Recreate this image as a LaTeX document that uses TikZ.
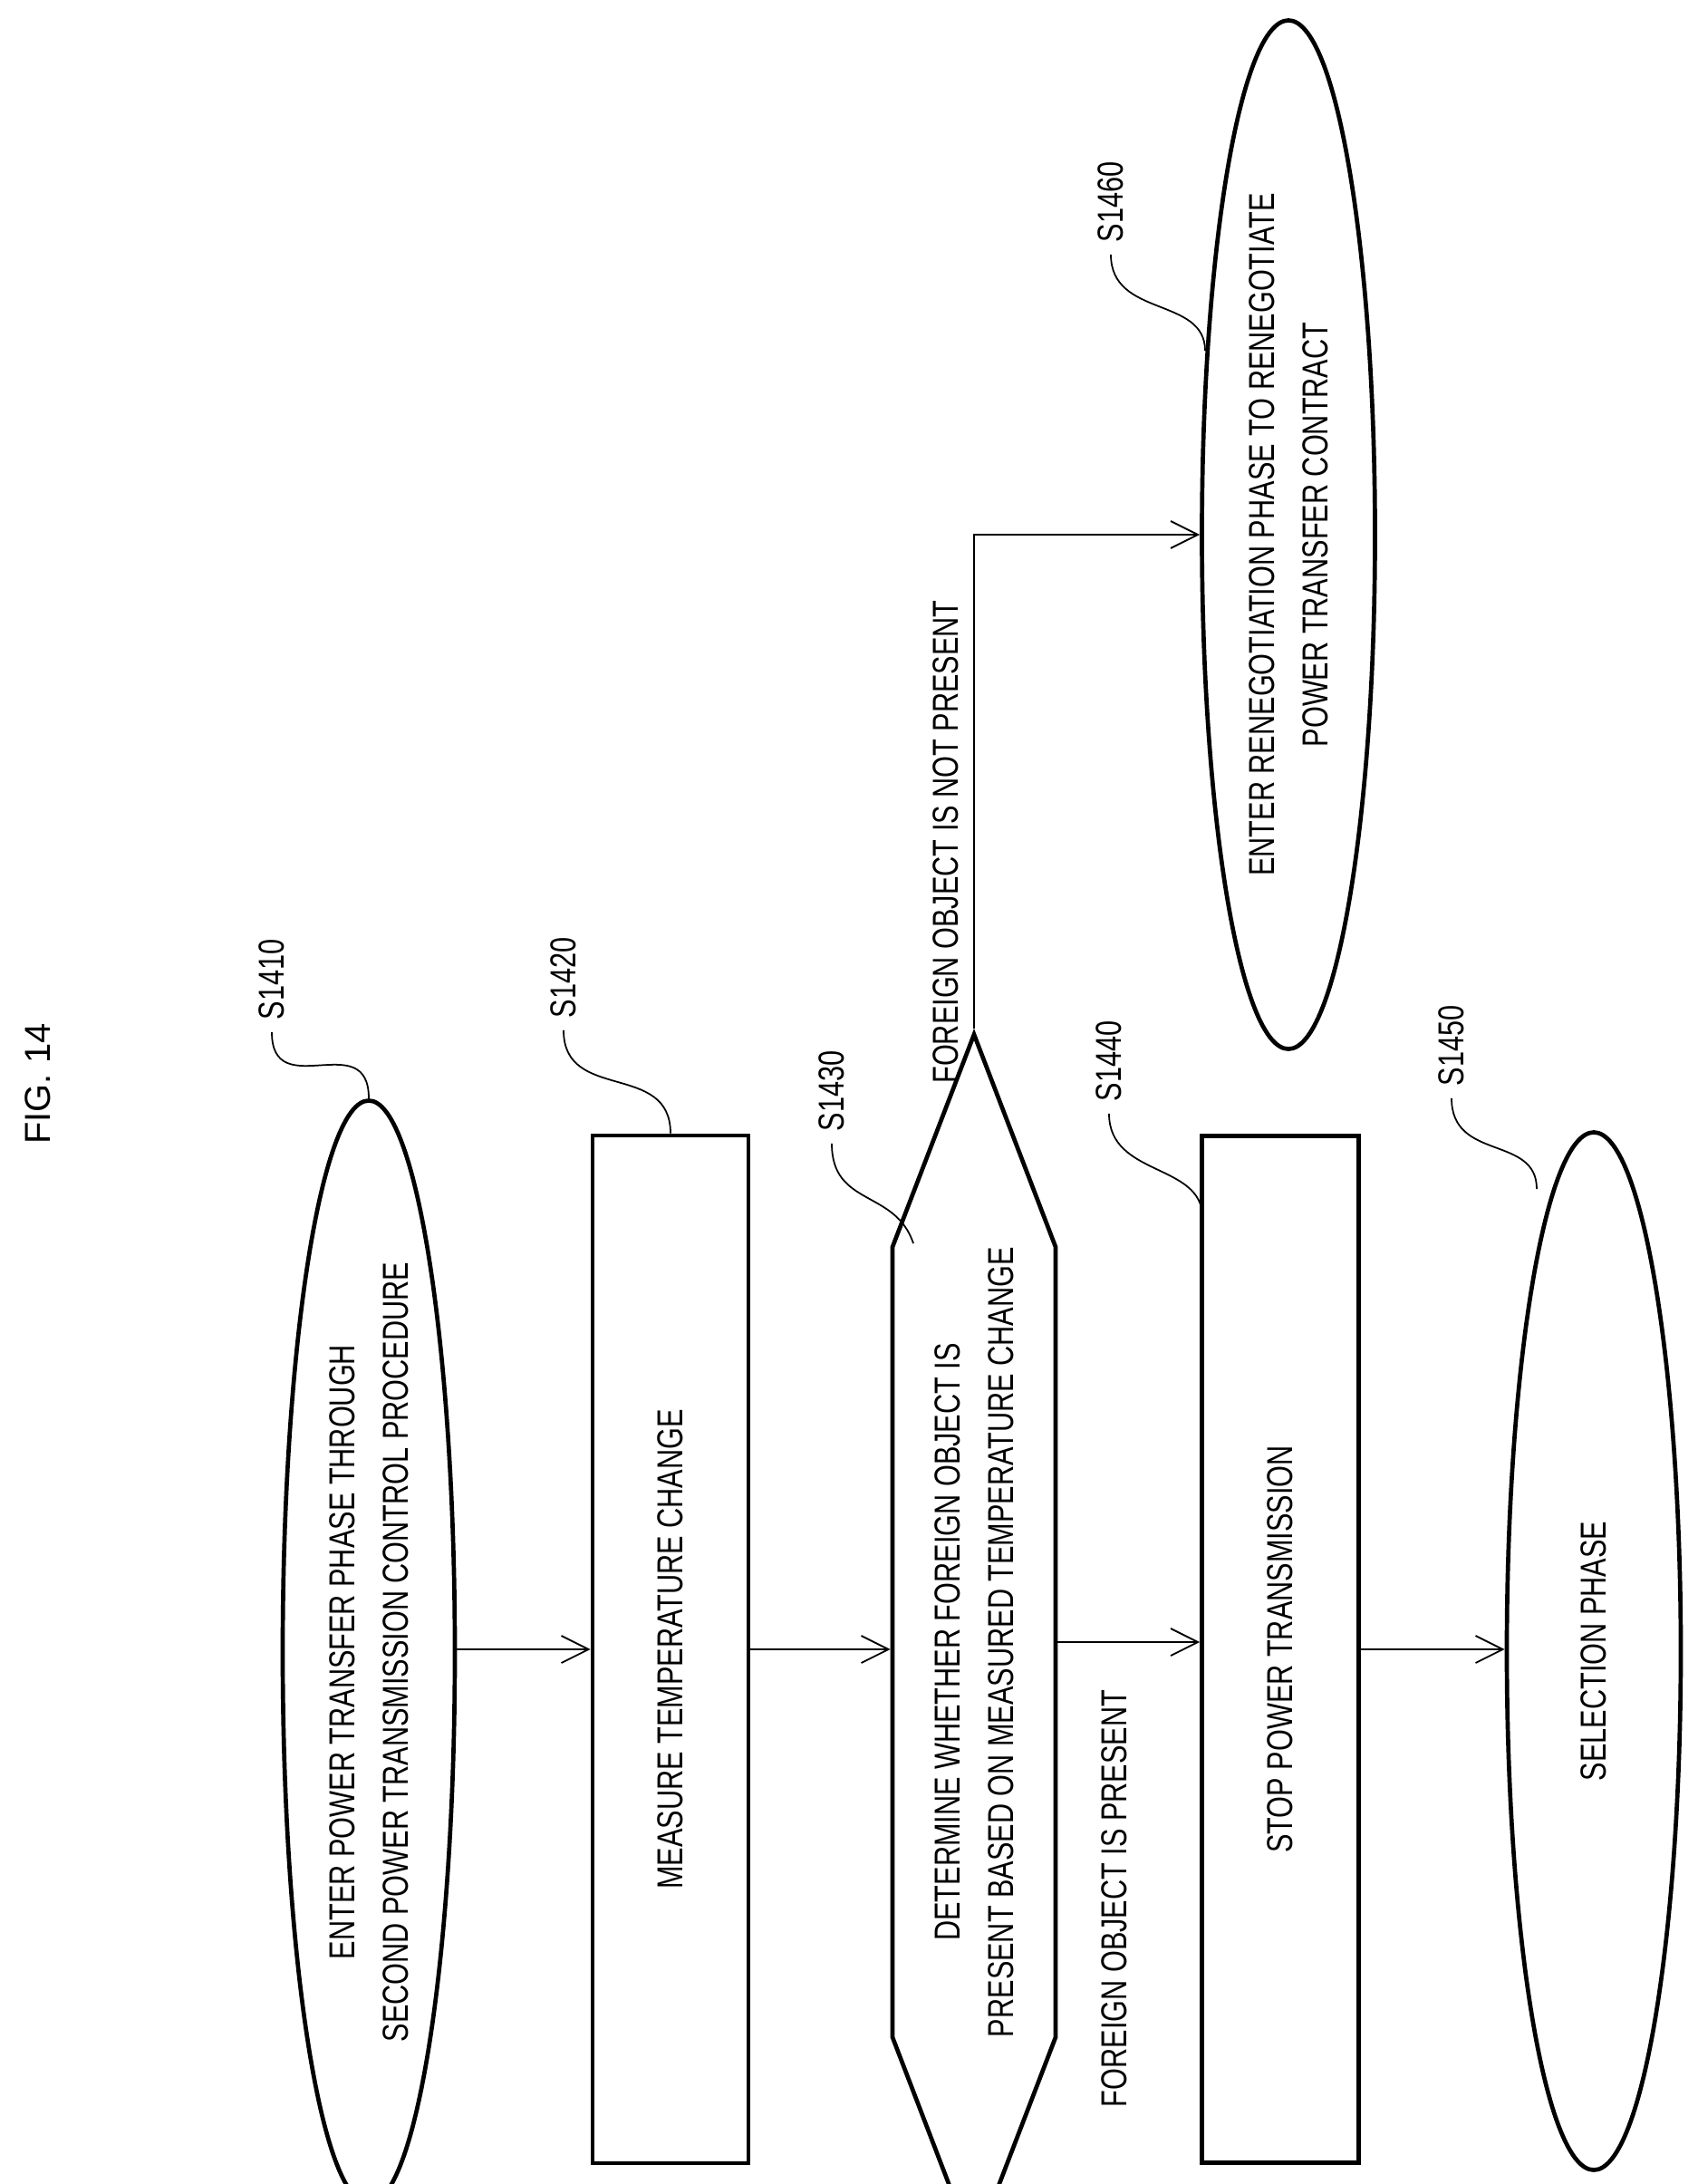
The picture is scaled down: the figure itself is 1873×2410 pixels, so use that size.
\documentclass[tikz,border=0pt]{standalone}
\usepackage{fontspec}
\setmainfont{Liberation Sans}[FakeStretch=0.77]
\newfontfamily\figfont{Liberation Sans}
\usetikzlibrary{shapes.geometric,shapes.symbols,arrows.meta}

\begin{document}
\begin{tikzpicture}[x=0.03cm, y=-0.03cm,
    box/.style={draw, line width=4pt, rotate=90, align=center, inner sep=0pt},
    flow/.style={line width=1.6pt, -{Straight Barb[length=0.9cm, width=0.9cm, line width=1.6pt]}},
    lead/.style={line width=1.5pt},
    txt/.style={rotate=90, align=center}]
            \useasboundingbox (0,0) rectangle (1873,2410);
            \fontsize{34}{50}\selectfont

            \pgfmathsetmacro{\firstCol}{407}
            \pgfmathsetmacro{\secondCol}{740}
            \pgfmathsetmacro{\thirdCol}{1075}
            \pgfmathsetmacro{\fourthCol}{1413}
            \pgfmathsetmacro{\fifthCol}{1759}

            \node[txt] (fig) at (42, 1196) {\fontsize{34}{40}\figfont FIG. 14};

            \node[box, ellipse, minimum width=34.2cm, minimum height=5.7cm] (s1410) at (\firstCol, 1823)
                {ENTER POWER TRANSFER PHASE THROUGH\\SECOND POWER TRANSMISSION CONTROL PROCEDURE};
            \node[box, rectangle, minimum width=34.02cm, minimum height=5.16cm] (s1420) at (\secondCol, 1820)
                {MEASURE TEMPERATURE CHANGE};
            \node[box, signal, signal to=east and west, signal pointer angle=42,
                minimum width=34.5cm, minimum height=5.4cm] (s1430) at (\thirdCol, 1812)
                {DETERMINE WHETHER FOREIGN OBJECT IS\\PRESENT BASED ON MEASURED TEMPERATURE CHANGE};
            \node[box, rectangle, minimum width=34cm, minimum height=5.19cm] (s1440) at (\fourthCol, 1820)
                {STOP POWER TRANSMISSION};
            \node[box, ellipse, minimum width=34.35cm, minimum height=5.76cm] (s1450) at (\fifthCol, 1822)
                {SELECTION PHASE};
            \node[box, ellipse, minimum width=34.05cm, minimum height=5.73cm] (s1460) at (1422, 590)
                {ENTER RENEGOTIATION PHASE TO RENEGOTIATE\\POWER TRANSFER CONTRACT};

            % main row of arrows
            \draw[flow] (s1410.south |- s1420.center) -- (s1420.north);
            \foreach \a/\b in {s1420/s1430, s1430/s1440, s1440/s1450}
            \draw[flow] (\a.south) -- (\a.south -| \b.north);

            % branch to renegotiation
            \draw[flow] (s1430.east) |- (s1460.north);
            \node[txt] (notpresent) at (1044, 929) {FOREIGN OBJECT IS NOT PRESENT};
            \node[txt] (present) at (1230, 2095) {FOREIGN OBJECT IS PRESENT};

            % step labels with leaders
            \coordinate (c1430) at (1008, 1372);
            \coordinate (c1440) at (1327, 1343);
            \coordinate (c1450) at (1696, 1312);
            \coordinate (c1460) at (1330, 387);
            \node[txt] (l1410) at (300, 1081) {S1410};
            \node[txt] (l1420) at (622, 1079) {S1420};
            \node[txt] (l1430) at (918, 1204) {S1430};
            \node[txt] (l1440) at (1224, 1171) {S1440};
            \node[txt] (l1450) at (1602, 1154) {S1450};
            \node[txt] (l1460) at (1226, 223) {S1460};
            \draw[lead] (l1410.west) .. controls +(0,80) and +(0,-80) .. (s1410.east);
            \draw[lead] (l1420.west) .. controls +(0,80) and +(0,-80) .. (s1420.east);
            \draw[lead] (l1430.west) .. controls +(0,70) and +(-20,-60) .. (c1430);
            \draw[lead] (l1440.west) .. controls +(0,70) and +(0,-60) .. (c1440);
            \draw[lead] (l1450.west) .. controls +(0,70) and +(0,-60) .. (c1450);
            \draw[lead] (l1460.west) .. controls +(0,70) and +(0,-60) .. (c1460);
        \end{tikzpicture}
\end{document}
